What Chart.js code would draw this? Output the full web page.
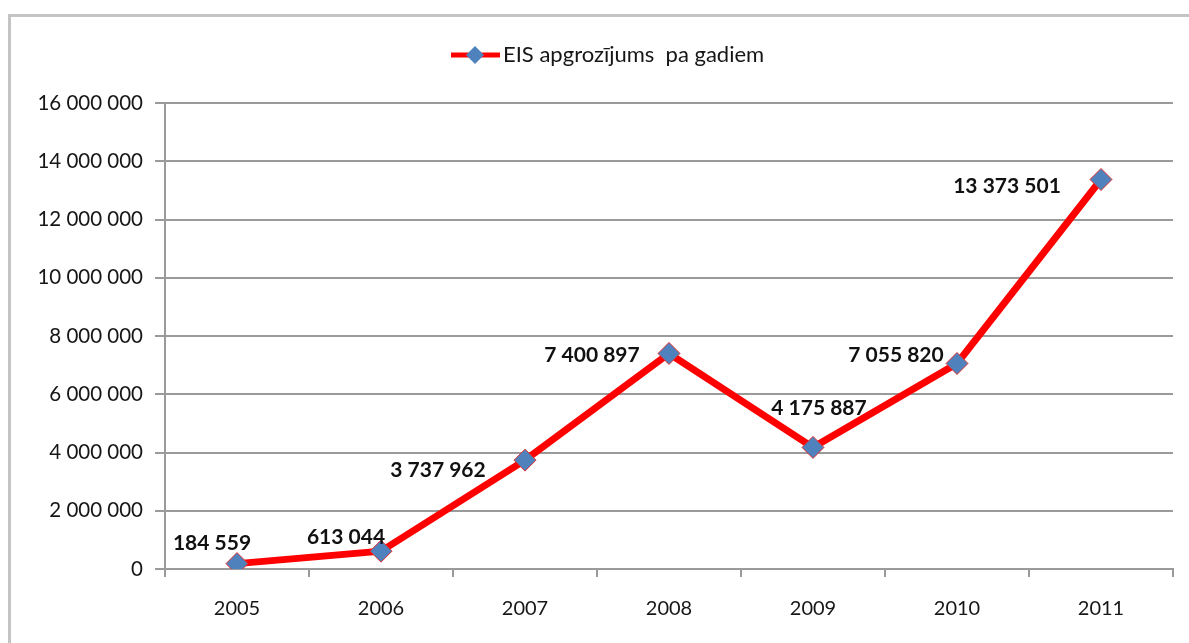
<!DOCTYPE html>
<html>
<head>
<meta charset="utf-8">
<script src="https://cdn.jsdelivr.net/npm/chart.js@4"></script>
<style>
    html, body { margin: 0; padding: 0; background: #fff; overflow: hidden; }
    #frame {
        position: absolute; left: 8px; top: 14px; width: 1300px; height: 700px;
        border-left: 3px solid #c4c4c4; border-top: 3px solid #c4c4c4;
    }
    #wrap { position: absolute; left: 0; top: 0; width: 1189px; height: 643px; }
</style>
</head>
<body>
<div id="frame"></div>
<div id="wrap"><canvas id="turnoverChart" width="1189" height="643"></canvas></div>
<script>
// ============================================
// EIS turnover per year
// ============================================

const years = ['2005', '2006', '2007', '2008', '2009', '2010', '2011'];
const turnover = [184559, 613044, 3737962, 7400897, 4175887, 7055820, 13373501];
const seriesName = 'EIS apgrozījums  pa gadiem';
const yTicks = [0, 2000000, 4000000, 6000000, 8000000, 10000000, 12000000, 14000000, 16000000];

// where each value label sits, relative to its point (px)
const labelOffsets = [[-25, -20], [-35, -14], [-87, 10], [-77, 2], [6, -39], [-61, -8], [-94, 7]];

const FONT = 'Lato, "Open Sans", sans-serif';
const TEXT = '#161616';
const GRID = '#9a9a9a';

function spaced(v) {
    return String(v).replace(/\B(?=(\d{3})+(?!\d))/g, ' ');
}

// value labels + legend, drawn after the datasets
const labelsPlugin = {
    id: 'valueLabels',
    afterDatasetsDraw(chart) {
        const ctx = chart.ctx;
        const meta = chart.getDatasetMeta(0);
        ctx.save();
        ctx.font = 'bold 21px ' + FONT;
        ctx.fillStyle = '#111';
        ctx.textAlign = 'center';
        ctx.textBaseline = 'middle';
        meta.data.forEach((pt, i) => {
            const off = labelOffsets[i];
            ctx.fillText(spaced(turnover[i]), pt.x + off[0], pt.y + off[1]);
        });

        // legend
        const ly = 55;
        ctx.strokeStyle = '#ff0000';
        ctx.lineWidth = 5;
        ctx.beginPath();
        ctx.moveTo(451, ly);
        ctx.lineTo(500, ly);
        ctx.stroke();
        ctx.fillStyle = '#4f81bd';
        ctx.beginPath();
        ctx.moveTo(475, ly - 9);
        ctx.lineTo(484, ly);
        ctx.lineTo(475, ly + 9);
        ctx.lineTo(466, ly);
        ctx.closePath();
        ctx.fill();
        ctx.font = '22px ' + FONT;
        ctx.fillStyle = TEXT;
        ctx.textAlign = 'left';
        ctx.fillText(seriesName, 503, ly);
        ctx.restore();
    }
};

const ctx = document.getElementById('turnoverChart');

new Chart(ctx, {
    type: 'line',
    data: {
        labels: years,
        datasets: [{
            label: seriesName,
            data: turnover,
            borderColor: '#ff0000',
            borderWidth: 7,
            tension: 0,
            fill: false,
            pointStyle: 'rectRot',
            pointRadius: 11,
            pointHoverRadius: 11,
            pointBackgroundColor: '#4f81bd',
            pointBorderColor: '#e03030',
            pointBorderWidth: 1
        }]
    },
    options: {
        responsive: false,
        animation: false,
        layout: { padding: { top: 103, right: 16, left: 0, bottom: 0 } },
        plugins: {
            legend: { display: false },
            tooltip: { enabled: false }
        },
        scales: {
            x: {
                offset: true,
                grid: {
                    offset: true,
                    drawOnChartArea: false,
                    drawTicks: true,
                    tickLength: 8,
                    color: GRID,
                    lineWidth: 2
                },
                border: { display: true, color: GRID, width: 2 },
                ticks: {
                    color: TEXT,
                    font: { family: FONT, size: 20 },
                    padding: 20,
                    maxRotation: 0
                },
                afterFit: scale => { scale.height = 643 - 569; }
            },
            y: {
                min: 0,
                max: 16000000,
                afterBuildTicks: scale => { scale.ticks = yTicks.map(v => ({ value: v })); },
                grid: {
                    color: GRID,
                    lineWidth: 2,
                    tickLength: 10
                },
                border: { display: true, color: GRID, width: 2 },
                ticks: {
                    color: TEXT,
                    font: { family: FONT, size: 20.5 },
                    padding: 12,
                    callback: v => spaced(v)
                },
                afterFit: scale => { scale.width = 165; }
            }
        }
    },
    plugins: [labelsPlugin]
});
</script>
</body>
</html>
